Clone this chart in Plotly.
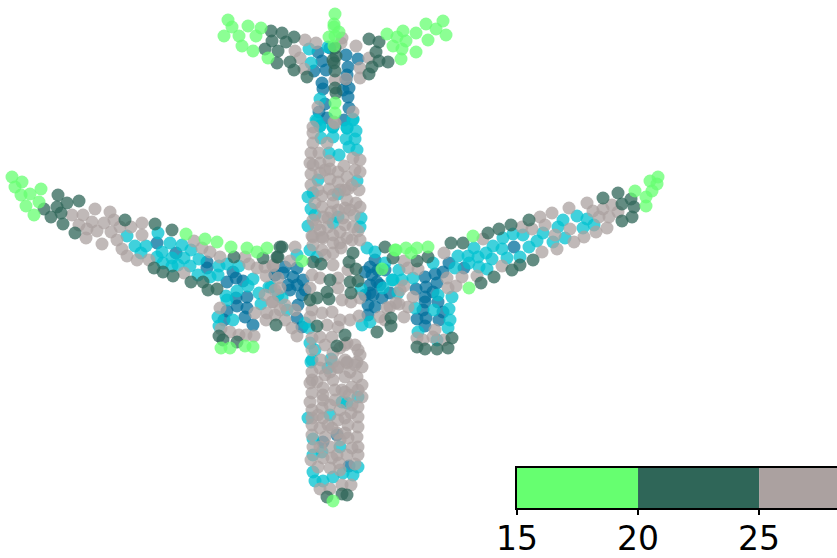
import plotly.graph_objects as go

# class values, image-like units (x right, y down)
green_x = [228,232,224,239,248,261,256,242,253,268,443,426,436,446,416,403,387,397,406,428,393,402,416,401,335,334,334,329,335,339,334,335,335,
           12,22,15,21,30,41,39,26,34,186,205,217,231,247,257,267,221,230,245,253,
           658,650,657,652,646,646,635,473,469,396,406,417,428,411,395,382,302,333]
green_y = [20,27,36,36,26,28,36,46,51,58,21,24,29,35,33,31,34,37,41,40,46,49,52,59,14,24,27,37,36,32,46,103,113,
           177,182,187,195,194,189,202,206,215,234,239,242,247,248,252,248,348,348,346,347,
           177,181,184,191,197,206,191,236,288,250,248,248,247,253,250,269,261,501]

dark_x = [271,282,294,272,286,265,278,277,290,294,307,369,379,376,379,388,372,369,335,336,333,334,335,335,336,
          282,278,385,313,321,349,353,356,350,358,351,327,310,317,329,276,317,345,337,377,391,391,330,
          58,67,79,57,44,51,61,63,75,125,155,172,154,163,173,191,203,208,217,234,263,277,280,219,223,237,
          618,603,631,622,634,632,622,529,511,499,488,463,451,428,417,533,520,512,494,481,393,452,417,425,437,448,
          327,342,347]
dark_y = [31,33,37,41,42,49,51,63,62,70,77,39,42,52,61,62,67,74,48,56,60,63,71,88,93,
          247,257,247,262,264,262,253,269,282,281,293,292,300,298,299,325,326,335,346,332,318,326,280,
          195,203,201,207,209,217,213,224,233,220,224,230,268,272,276,282,282,290,289,257,258,257,247,336,340,342,
          193,198,199,204,207,217,221,220,225,229,233,243,243,257,261,260,265,270,277,283,258,338,347,349,349,348,
          497,494,495]

gray_x = [305,316,295,300,304,356,369,360,360,341,342,335,346,335,318,353,313,
          313,313,327,334,311,319,310,320,329,330,344,353,360,355,360,311,320,338,347,330,338,311,348,359,329,322,315,333,347,356,360,322,331,345,323,343,354,316,328,340,353,358,312,322,333,
          295,290,273,313,323,333,333,341,347,333,322,312,320,338,338,348,280,310,273,342,351,360,312,322,332,340,350,359,297,285,292,312,320,332,327,347,355,340,333,347,360,338,321,387,380,396,310,338,357,275,
          347,355,338,362,312,325,345,357,317,333,362,310,352,323,335,342,312,349,362,323,310,358,322,340,312,351,358,323,338,312,348,358,332,320,337,325,348,357,313,330,352,358,337,323,347,311,355,318,330,339,351,342,320,330,
          72,83,95,110,92,79,87,86,104,97,114,120,131,142,111,142,102,117,122,127,137,149,184,194,202,210,220,245,249,257,265,273,266,278,272,267,266,220,255,221,230,239,246,254,
          569,587,552,540,593,603,612,618,609,599,545,522,532,570,607,596,584,574,557,555,542,483,444,502,477,462,456,448,447,404,418,408,404,413,390,399,408,404,435,423,433,444,417,
          330,345,323,335,312,358,352,330,318,345,312,328,345,312,320,340,358,340,332,345,325,312,345,358,333,320,350,
          325,340,313,352,333,345,318,350,338,313,328,345,320,360,352,340,313,325,
          285,295,265,275,280,385,400]
gray_y = [40,43,51,58,69,46,58,68,78,43,38,80,79,123,107,112,127,
          133,143,143,122,153,153,163,163,161,169,166,158,160,170,172,174,173,172,177,179,182,185,189,190,189,196,203,203,200,203,207,207,212,208,217,218,215,225,227,232,227,231,236,237,235,
          247,261,265,237,238,243,253,248,238,265,250,275,278,288,278,270,288,288,302,300,302,298,310,313,312,320,320,316,336,320,328,338,337,337,325,343,345,348,353,362,355,367,360,308,317,303,317,327,362,315,
          363,365,368,367,372,375,377,377,382,380,385,383,387,388,390,390,393,395,397,400,402,407,408,410,410,413,417,418,420,425,425,427,428,428,433,437,438,437,447,447,448,447,455,458,455,460,464,467,468,463,485,485,489,489,
          215,215,209,212,222,225,229,238,223,231,220,227,227,223,232,235,244,240,249,256,260,260,273,241,248,252,257,257,264,268,267,266,276,278,302,313,320,308,313,329,332,335,335,336,
          208,203,213,217,211,209,205,212,217,217,225,227,229,229,228,232,237,242,249,235,252,239,253,266,276,277,286,288,278,261,269,268,286,297,307,304,307,317,330,340,337,340,338,
          372,392,395,400,380,390,405,405,415,418,418,425,433,435,447,440,455,470,458,345,345,350,360,350,362,368,372,
          170,190,165,185,195,190,190,210,210,220,218,225,230,240,240,243,245,255,
          305,310,295,290,310,320,290]

cyan_x = [309,311,320,317,320,353,333,347,328,
          316,320,321,333,333,347,353,356,346,355,349,357,339,329,318,357,313,308,311,315,308,338,333,361,360,338,
          310,297,317,287,282,271,385,392,383,375,367,361,310,315,312,331,362,370,309,305,
          311,328,358,342,330,308,313,340,313,322,313,315,323,333,343,353,358,347,
          127,135,146,141,158,170,182,191,162,157,163,172,172,178,184,190,199,198,210,218,219,227,239,237,226,227,253,248,269,259,261,233,218,219,278,
          577,563,558,587,594,583,565,553,543,537,529,523,513,503,493,502,486,474,458,468,478,492,507,520,469,479,487,455,433,399,413,402,393,398,452,438,415,434,449,450,448,418,437]
cyan_y = [49,63,99,121,126,120,127,128,47,
          120,126,138,137,127,128,119,131,139,139,147,150,155,153,180,181,193,197,209,215,226,217,223,218,227,194,
          250,255,257,310,298,287,263,280,288,252,248,289,343,350,360,359,325,322,328,323,
          362,368,397,402,415,418,439,447,455,452,472,481,481,477,473,475,467,403,
          236,246,246,253,233,243,245,250,252,257,263,258,266,265,258,266,259,275,277,275,266,264,266,291,296,300,279,286,287,293,304,320,317,326,295,
          216,220,227,219,225,228,238,242,233,241,247,235,234,238,246,249,253,248,256,256,257,259,258,257,263,267,269,268,263,270,278,280,280,293,297,295,308,310,309,320,328,332,340]

blue_x = [318,322,314,326,346,358,348,347,346,322,323,349,348,325,349,319,327,344,330,343,
          285,275,283,297,293,303,297,288,302,298,297,302,375,370,378,372,377,370,373,382,368,375,368,385,370,
          337,323,349,
          157,176,207,207,233,236,227,243,236,247,237,247,227,245,224,253,275,
          514,449,443,464,435,425,437,416,426,425,433,425,438,443,423,417,426,439,425,390,
          305,290,365,380,365]
blue_y = [52,61,71,70,55,59,67,75,80,83,89,88,97,104,108,112,118,120,48,90,
          267,275,273,268,277,280,285,285,295,305,318,327,260,267,270,275,282,285,295,298,305,307,315,270,293,
          435,442,466,
          243,253,262,268,272,278,282,281,298,297,306,308,311,317,320,325,275,
          247,263,272,268,274,277,283,289,287,297,292,302,302,312,310,319,318,320,326,293,
          290,290,272,285,295]

# colour bar
bar_starts = [15, 20, 25]
bar_widths = [5, 5, 5]
bar_colors = ["#66ff70", "#2f6658", "#aba1a0"]
bar_ticks = [15, 20, 25]

fig = go.Figure()
# drawn blue first, green last, as the overlaps show
for x, y, c in [(blue_x, blue_y, "#006f9c"), (cyan_x, cyan_y, "#00c2d0"), (gray_x, gray_y, "#aba1a0"),
                (dark_x, dark_y, "#2f6658"), (green_x, green_y, "#66ff70")]:
    fig.add_trace(go.Scatter(x=x, y=y, mode="markers", hoverinfo="skip",
                             marker=dict(size=13, color=c, opacity=0.75, line=dict(width=0))))
for b, w, c in zip(bar_starts, bar_widths, bar_colors):
    fig.add_trace(go.Bar(y=[0.5], x=[w], base=[b], width=1, orientation="h", xaxis="x2", yaxis="y2",
                         marker=dict(color=c, line=dict(width=0)), hoverinfo="skip"))

fig.update_layout(
    width=837, height=558, showlegend=False, paper_bgcolor="white", plot_bgcolor="white",
    margin=dict(l=0, r=0, t=0, b=0, autoexpand=False), barmode="overlay",
    xaxis=dict(range=[0, 837], domain=[0, 1], visible=False),
    yaxis=dict(range=[558, 0], domain=[0, 1], visible=False),
    xaxis2=dict(range=[15, 28.22], domain=[517/837, 1], anchor="y2", tickvals=bar_ticks, ticks="outside",
                ticklen=5, tickwidth=1.5, tickcolor="black", showline=True, linecolor="black", linewidth=2,
                mirror=True, showgrid=False, zeroline=False, ticklabelstandoff=-5,
                tickfont=dict(family="DejaVu Sans", size=33, color="black")),
    yaxis2=dict(range=[0, 1], domain=[50/558, 90/558], anchor="x2", showticklabels=False, ticks="",
                showline=True, linecolor="black", linewidth=2, showgrid=False, zeroline=False),
)
# page margin off so the 837x558 plot sits at the window corner
fig.write_html("out.html", config=dict(displayModeBar=False),
               post_script="document.body.style.margin='0';document.documentElement.style.overflow='hidden';")
